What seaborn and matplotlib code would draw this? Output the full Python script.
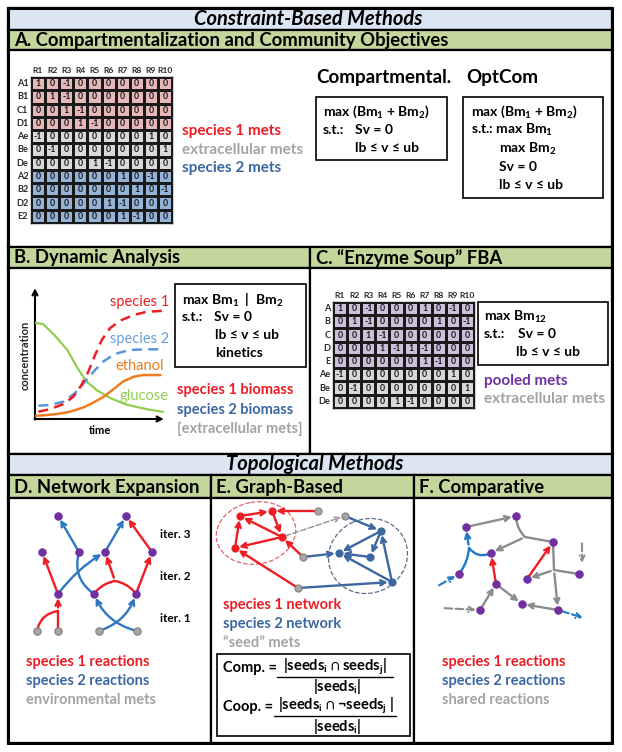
import numpy as np
import pandas as pd
import matplotlib
matplotlib.use('Agg')
import matplotlib.pyplot as plt
import seaborn as sns
from matplotlib.patches import Rectangle, FancyArrowPatch, Ellipse
from matplotlib.colors import ListedColormap

# ---------------- data ----------------
reactions = ['R1', 'R2', 'R3', 'R4', 'R5', 'R6', 'R7', 'R8', 'R9', 'R10']

# panel A stoichiometric matrix
mets_a = ['A1', 'B1', 'C1', 'D1', 'Ae', 'Be', 'De', 'A2', 'B2', 'D2', 'E2']
group_a = [0, 0, 0, 0, 1, 1, 1, 2, 2, 2, 2]   # species 1 / extracellular / species 2
stoich_a = [
    [1, 0, -1, 0, 0, 0, 0, 0, 0, 0],
    [0, 1, -1, 0, 0, 0, 0, 0, 0, 0],
    [0, 0, 1, -1, 0, 0, 0, 0, 0, 0],
    [0, 0, 0, 1, -1, 0, 0, 0, 0, 0],
    [-1, 0, 0, 0, 0, 0, 0, 0, 1, 0],
    [0, -1, 0, 0, 0, 0, 0, 0, 0, 1],
    [0, 0, 0, 0, 1, -1, 0, 0, 0, 0],
    [0, 0, 0, 0, 0, 0, 1, 0, -1, 0],
    [0, 0, 0, 0, 0, 0, 0, 1, 0, -1],
    [0, 0, 0, 0, 0, 1, -1, 0, 0, 0],
    [0, 0, 0, 0, 0, 0, 1, -1, 0, 0],
]

# panel C pooled matrix
mets_c = ['A', 'B', 'C', 'D', 'E', 'Ae', 'Be', 'De']
group_c = [0, 0, 0, 0, 0, 1, 1, 1]   # pooled / extracellular
stoich_c = [
    [1, 0, -1, 0, 0, 0, 1, 0, -1, 0],
    [0, 1, -1, 0, 0, 0, 0, 1, 0, -1],
    [0, 0, 1, -1, 0, 0, 0, 0, 0, 0],
    [0, 0, 0, 1, -1, 1, -1, 0, 0, 0],
    [0, 0, 0, 0, 0, 0, 1, -1, 0, 0],
    [-1, 0, 0, 0, 0, 0, 0, 0, 1, 0],
    [0, -1, 0, 0, 0, 0, 0, 0, 0, 1],
    [0, 0, 0, 0, 1, -1, 0, 0, 0, 0],
]

# panel B dynamic curves (time, concentration)
glucose_t = [0, 0.6, 1.4, 2.4, 3.1, 3.8, 4.6, 5.6, 6.8, 8.3, 9.5]
glucose_c = [7.4, 7.3, 6.5, 5.3, 4.0, 2.9, 2.2, 1.6, 1.1, 0.75, 0.55]
ethanol_t = [0, 0.6, 1.6, 2.6, 3.6, 4.3, 5.1, 5.8, 6.5, 7.3, 8.0, 9.3]
ethanol_c = [0.25, 0.28, 0.38, 0.56, 0.9, 1.25, 1.72, 2.28, 2.87, 3.25, 3.38, 3.38]
sp1_t = [0.25, 1.1, 2.1, 2.85, 3.45, 3.95, 4.45, 4.95, 5.55, 6.3, 7.3, 8.3, 9.6]
sp1_c = [0.56, 0.75, 1.15, 1.72, 2.62, 3.64, 4.92, 6.08, 6.98, 7.56, 8.0, 8.25, 8.33]
sp2_t = [0.25, 1.1, 2.1, 2.95, 3.7, 4.45, 5.05, 5.9, 7.0, 8.3, 9.6]
sp2_c = [1.02, 1.08, 1.33, 1.98, 2.87, 3.77, 4.41, 5.0, 5.31, 5.36, 5.36]

# panel D network expansion (node positions, px)
d_nodes = {'p1': (58, 516), 'p2': (126, 516), 'q1': (42, 552), 'q2': (79, 552),
           'q3': (105, 552), 'q4': (152, 552), 'r1': (58, 594), 'r2': (94, 594),
           'r3': (136, 594), 'j1': (58, 611), 'j2': (115, 581)}
d_seeds = {'g1': (37, 631), 'g2': (58, 631), 'g3': (99, 631), 'g4': (137, 631)}
d_edges = [  # (from, to, species, arrow, curvature)
    ('g1', 'j1', 1, False, -0.35), ('g2', 'j1', 1, False, 0), ('j1', 'r1', 1, True, 0),
    ('r1', 'q1', 1, True, 0), ('r1', 'q3', 2, True, -0.1),
    ('r2', 'q2', 2, False, -0.35), ('q2', 'p1', 2, True, 0),
    ('r2', 'j2', 1, False, -0.2), ('r3', 'j2', 1, False, 0.2), ('j2', 'q3', 1, True, 0),
    ('r3', 'q4', 1, True, 0), ('q3', 'p2', 2, True, 0), ('q4', 'p2', 1, True, 0),
    ('g3', 'r3', 2, True, 0.25), ('g4', 'r2', 2, True, -0.25),
]
d_iters = ['iter. 3', 'iter. 2', 'iter. 1']

# panel E graph-based (node positions, px)
e_sp1 = {'a': (240, 516), 'b': (272, 511), 'c': (282, 537), 'd': (235, 548)}
e_seed = {'s1': (318, 511), 's2': (345, 516), 's3': (303, 557), 's4': (298, 588)}
e_sp2 = {'e': (381, 531), 'f': (339, 553), 'g': (370, 557), 'h': (392, 582)}
e_edges = [
    ('s1', 'b', 1), ('a', 'b', 1), ('b', 'c', 1), ('c', 'a', 1), ('d', 'a', 1),
    ('c', 'd', 1), ('s3', 'c', 1), ('s4', 'd', 1),
    ('s2', 'e', 2), ('s3', 'f', 2), ('e', 'f', 2), ('g', 'f', 2), ('h', 'f', 2),
    ('h', 'e', 2), ('e', 'g', 2), ('s4', 'h', 2),
]

# panel F comparative (node positions, px)
f_nodes = {'n1': (516, 516), 'n2': (466, 527), 'n3': (553, 542), 'n4': (491, 553),
           'n5': (459, 574), 'n6': (579, 574), 'n7': (527, 579), 'n8': (496, 584),
           'n9': (522, 604), 'n10': (480, 610), 'n11': (558, 610)}
f_junc = {'jA': (525, 537), 'jB': (469, 548), 'jC': (554, 570),
          'x1': (441, 608), 'x2': (582, 540), 'x3': (582, 567), 'x4': (436, 587), 'x5': (587, 619)}
f_edges = [  # (from, to, kind, arrow, dashed, curvature)
    ('n2', 'n1', 0, True, False, 0), ('n1', 'jA', 0, False, False, 0.2),
    ('n3', 'jA', 0, False, False, 0), ('jA', 'n4', 0, True, False, 0),
    ('n5', 'jB', 2, False, False, 0.15), ('n4', 'jB', 2, False, False, -0.4),
    ('jB', 'n2', 2, True, False, 0), ('n8', 'n4', 1, True, False, 0),
    ('n7', 'n3', 1, True, False, 0), ('n3', 'jC', 0, False, False, 0),
    ('n6', 'jC', 0, False, False, 0), ('jC', 'n7', 0, True, False, 0),
    ('jC', 'n11', 0, True, False, 0), ('n10', 'n8', 0, True, False, 0),
    ('n8', 'n9', 0, True, False, 0), ('n11', 'n9', 0, True, False, 0),
    ('x1', 'n10', 0, True, True, 0), ('x2', 'x3', 0, True, True, 0),
    ('x4', 'n5', 2, True, True, 0), ('n11', 'x5', 2, True, True, 0),
]

# ---------------- style ----------------
sns.set_theme(style='white')
plt.rcParams['font.family'] = ['Lato', 'DejaVu Sans']
plt.rcParams['mathtext.fontset'] = 'custom'
plt.rcParams['mathtext.rm'] = 'Lato'
plt.rcParams['mathtext.bf'] = 'Lato:bold'
plt.rcParams['mathtext.it'] = 'Lato:italic'
plt.rcParams['mathtext.default'] = 'bf'

W, H = 622, 752
RED = '#ee1c24'
BLUE_TXT = '#3a67a3'
GREY_TXT = '#a3a3a3'
PURPLE = '#7030a0'
HEAD_BLUE = '#dce6f2'
HEAD_GREEN = '#c3d69b'
HEAD_SIZE = 13.3
SECT_SIZE = 14.5

fig = plt.figure(figsize=(W / 100, H / 100), dpi=100)
ax = fig.add_axes([0, 0, 1, 1])
ax.set_xlim(0, W)
ax.set_ylim(H, 0)
ax.axis('off')


def px_axes(x0, y0, x1, y1):
    return fig.add_axes([x0 / W, 1 - y1 / H, (x1 - x0) / W, (y1 - y0) / H])


def txt(x, y, s, size=10, color='black', weight='bold', ha='left', style='normal'):
    ax.text(x, y, s, fontsize=size, color=color, fontweight=weight, ha=ha,
            va='center', fontstyle=style)


def box(x0, y0, x1, y1, fc='white', lw=1.6):
    ax.add_patch(Rectangle((x0, y0), x1 - x0, y1 - y0, facecolor=fc,
                           edgecolor='black', lw=lw, zorder=1))


def arrow(p, q, color, head=True, rad=0.0, dashed=False, lw=1.7):
    style = '->' if head else '-'
    a = FancyArrowPatch(p, q, arrowstyle=style, mutation_scale=9, color=color,
                        lw=lw, linestyle='--' if dashed else '-',
                        connectionstyle=f'arc3,rad={rad}',
                        shrinkA=2.5, shrinkB=3 if head else 0, zorder=3)
    ax.add_patch(a)


def nodes(pts, color, edge=None, size=28):
    xy = np.array(list(pts))
    sns.scatterplot(x=xy[:, 0], y=xy[:, 1], ax=ax, color=color, s=size,
                    edgecolor=edge or color, linewidth=0.8, zorder=5, legend=False)


def matrix(x0, y0, x1, y1, values, groups, rows, colors):
    hax = px_axes(x0, y0, x1, y1)
    grp = np.repeat(np.array(groups)[:, None], len(reactions), axis=1)
    sns.heatmap(grp, ax=hax, cmap=ListedColormap(colors), vmin=-0.5,
                vmax=len(colors) - 0.5, annot=np.array(values), fmt='d', cbar=False,
                linewidths=0.8, linecolor='#1a1a1a',
                annot_kws=dict(fontsize=6.3, fontweight='bold', color='#1a1a1a'),
                xticklabels=reactions, yticklabels=rows)
    hax.xaxis.tick_top()
    hax.tick_params(axis='x', length=0, labelsize=6.1, pad=2)
    hax.tick_params(axis='y', length=0, labelsize=6.6, pad=2)
    hax.set_yticklabels(rows, rotation=0, fontweight='bold')
    hax.set_xticklabels(reactions, rotation=0, fontweight='bold')
    for s in hax.spines.values():
        s.set_visible(True)
        s.set_color('#1a1a1a')
        s.set_linewidth(1)


# ---------------- frame ----------------
box(8, 8, 612, 743, lw=2)
box(8, 8, 612, 30, fc=HEAD_BLUE)
box(8, 30, 612, 50, fc=HEAD_GREEN)
box(8, 50, 612, 247)
box(8, 247, 310, 268, fc=HEAD_GREEN)
box(310, 247, 612, 268, fc=HEAD_GREEN)
box(8, 268, 310, 454)
box(310, 268, 612, 454)
box(8, 454, 612, 475, fc=HEAD_BLUE)
for xa, xb in [(8, 211), (211, 414), (414, 612)]:
    box(xa, 475, xb, 498, fc=HEAD_GREEN)
    box(xa, 498, xb, 743)
ax.plot([8, 612, 612, 8, 8], [8, 8, 743, 743, 8], color='black', lw=2.2, zorder=2)

txt(308, 19, 'Constraint-Based Methods', size=SECT_SIZE, ha='center', style='italic')
txt(315, 464, 'Topological Methods', size=SECT_SIZE, ha='center', style='italic')
txt(14, 40.5, 'A. Compartmentalization and Community Objectives', size=HEAD_SIZE)
txt(14, 258, 'B. Dynamic Analysis', size=HEAD_SIZE)
txt(316, 258, 'C. \u201cEnzyme Soup\u201d FBA', size=HEAD_SIZE)
txt(14, 487, 'D. Network Expansion', size=HEAD_SIZE)
txt(216, 487, 'E. Graph-Based', size=HEAD_SIZE)
txt(419, 487, 'F. Comparative', size=HEAD_SIZE)

# ---------------- panel A ----------------
matrix(31, 77, 172, 223, stoich_a, group_a, mets_a, ['#e6b9b8', '#d9d9d9', '#95b3d7'])
txt(182, 131, 'species 1 mets', size=11, color=RED)
txt(182, 150, 'extracellular mets', size=11, color=GREY_TXT)
txt(182, 168, 'species 2 mets', size=11, color=BLUE_TXT)

txt(316, 77, 'Compartmental.', size=13.5)
txt(466, 77, 'OptCom', size=13.5)
box(316, 97, 447, 160, lw=1.2)
txt(323, 112, 'max (Bm$_1$ + Bm$_2$)')
txt(323, 130, 's.t.:')
txt(355, 130, 'Sv = 0')
txt(355, 148, 'lb \u2264 v \u2264 ub')
box(463, 97, 603, 198, lw=1.2)
txt(471, 112, 'max (Bm$_1$ + Bm$_2$)')
txt(471, 130, 's.t.: max Bm$_1$')
txt(499, 149, 'max Bm$_2$')
txt(499, 167, 'Sv = 0')
txt(499, 185, 'lb \u2264 v \u2264 ub')

# ---------------- panel B ----------------
axb = px_axes(35, 284, 170, 419)
axb.set_xlim(0, 10)
axb.set_ylim(0, 135 / 13)
axb.axis('off')
sns.lineplot(x=glucose_t, y=glucose_c, ax=axb, color='#8fcf50', lw=1.6)
sns.lineplot(x=ethanol_t, y=ethanol_c, ax=axb, color='#ee7d22', lw=1.8)
sns.lineplot(x=sp2_t, y=sp2_c, ax=axb, color='#5a96e0', lw=1.8)
axb.lines[-1].set_dashes([4, 2.5])
sns.lineplot(x=sp1_t, y=sp1_c, ax=axb, color=RED, lw=1.8)
axb.lines[-1].set_dashes([4, 2.5])

arrow((35, 423), (35, 284), 'black', lw=1.5)
arrow((31, 419), (168, 419), 'black', lw=1.5)
ax.text(25, 355, 'concentration', rotation=90, fontsize=8, fontweight='bold',
        ha='center', va='center')
txt(100, 431, 'time', size=8, ha='center')
txt(110, 302, 'species 1', size=10.5, color='#e8201f', weight='normal')
txt(110, 339, 'species 2', size=10.5, color='#6a9fdc', weight='normal')
txt(115, 366, 'ethanol', size=10.5, color='#e87d1e', weight='normal')
txt(120, 396, 'glucose', size=10.5, color='#92d050', weight='normal')

box(175, 284, 306, 367, lw=1.2)
txt(182, 300, 'max Bm$_1$  |  Bm$_2$')
txt(182, 317, 's.t.:')
txt(214, 317, 'Sv = 0')
txt(215, 335, 'lb \u2264 v \u2264 ub')
txt(215, 353, 'kinetics')
txt(177, 390, 'species 1 biomass', size=10.5, color=RED)
txt(177, 410, 'species 2 biomass', size=10.5, color=BLUE_TXT)
txt(177, 429, '[extracellular mets]', size=10.5, color=GREY_TXT)

# ---------------- panel C ----------------
matrix(333, 302, 474, 408, stoich_c, group_c, mets_c, ['#ccc0da', '#d9d9d9'])
box(478, 302, 608, 365, lw=1.2)
txt(484, 317, 'max Bm$_{12}$')
txt(484, 334, 's.t.:')
txt(518, 334, 'Sv = 0')
txt(516, 352, 'lb \u2264 v \u2264 ub')
txt(484, 381, 'pooled mets', size=11, color=PURPLE)
txt(484, 399, 'extracellular mets', size=11, color=GREY_TXT)

# ---------------- panel D ----------------
d_all = {**d_nodes, **d_seeds}
d_cols = {1: RED, 2: '#2e78c2'}
for a_, b_, sp, head, rad in d_edges:
    arrow(d_all[a_], d_all[b_], d_cols[sp], head=head, rad=rad)
nodes([v for k, v in d_nodes.items() if not k.startswith('j')], PURPLE)
nodes(d_seeds.values(), '#a6a6a6', edge='#7f7f7f')
for lab, yy in zip(d_iters, [535, 577, 618]):
    txt(160, yy, lab, size=8.5)
txt(26, 662, 'species 1 reactions', size=10.5, color=RED)
txt(26, 681, 'species 2 reactions', size=10.5, color=BLUE_TXT)
txt(26, 700, 'environmental mets', size=10.5, color=GREY_TXT)

# ---------------- panel E ----------------
ax.add_patch(Ellipse((256, 533), 80, 62, angle=-10, fill=False, ls='--',
                     ec='#e8606a', lw=0.9))
ax.add_patch(Ellipse((368, 556), 80, 74, angle=-25, fill=False, ls='--',
                     ec='#5a6e8c', lw=0.9))
e_all = {**e_sp1, **e_seed, **e_sp2}
for a_, b_, sp in e_edges:
    arrow(e_all[a_], e_all[b_], RED if sp == 1 else '#3d67a0')
arrow(e_all['c'], e_all['s2'], '#9a9a9a', dashed=True, lw=1.1)
nodes(e_sp1.values(), RED, size=26)
nodes(e_sp2.values(), '#3d67a0', size=26)
nodes(e_seed.values(), '#a6a6a6', edge='#7f7f7f', size=26)
txt(223, 605, 'species 1 network', size=10.5, color=RED)
txt(223, 624, 'species 2 network', size=10.5, color=BLUE_TXT)
txt(223, 643, '\u201cseed\u201d mets', size=10.5, color=GREY_TXT)

box(217, 654, 410, 736, lw=1.2)
txt(223, 668, 'Comp. =', size=10.5)
txt(335, 667, '|seeds$_i$ \u2229 seeds$_j$|', size=10.5, ha='center')
ax.plot([277, 393], [677, 677], color='black', lw=1)
txt(337, 687, '|seeds$_i$|', size=10.5, ha='center')
txt(223, 707, 'Coop. =', size=10.5)
txt(336, 706, '|seeds$_i$ \u2229 \u00acseeds$_j$ |', size=10.5, ha='center')
ax.plot([274, 396], [716, 716], color='black', lw=1)
txt(337, 726, '|seeds$_i$|', size=10.5, ha='center')

# ---------------- panel F ----------------
f_all = {**f_nodes, **f_junc}
f_cols = {0: '#8c8c8c', 1: RED, 2: '#1f7ac8'}
for a_, b_, kind, head, dashed, rad in f_edges:
    arrow(f_all[a_], f_all[b_], f_cols[kind], head=head, rad=rad, dashed=dashed,
          lw=1.5 if dashed else 1.7)
nodes(f_nodes.values(), PURPLE)
txt(442, 662, 'species 1 reactions', size=10.5, color=RED)
txt(442, 681, 'species 2 reactions', size=10.5, color=BLUE_TXT)
txt(442, 700, 'shared reactions', size=10.5, color=GREY_TXT)

fig.savefig('out.png', dpi=100)
